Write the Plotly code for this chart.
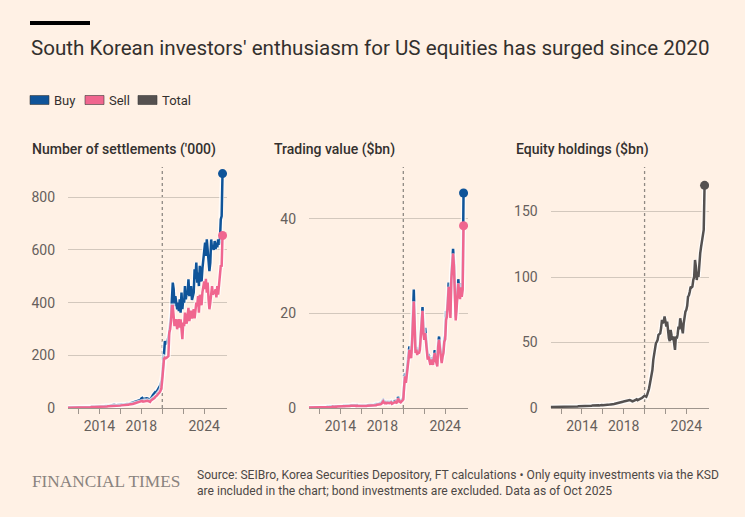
import plotly.graph_objects as go
import pandas as pd

# ---------------- data (monthly, Jan 2011 - Oct 2025) ----------------
dates = pd.date_range("2011-01-01", "2025-10-01", freq="MS")

settle_buy = [
    2, 2, 2, 3, 2, 2, 2, 3, 2, 2, 2, 3,
    3, 3, 3, 3, 3, 3, 4, 3, 3, 3, 4, 4,
    4, 4, 4, 5, 4, 5, 5, 5, 5, 5, 5, 6,
    6, 6, 6, 7, 7, 7, 7, 8, 8, 7, 8, 8,
    9, 10, 11, 11, 12, 12, 11, 10, 10, 11, 11, 11,
    11, 12, 12, 13, 13, 13, 14, 14, 15, 15, 16, 17,
    18, 19, 21, 22, 23, 24, 24, 25, 27, 28, 30, 31,
    36, 38, 33, 34, 36, 35, 37, 36, 35, 33, 31, 36,
    45, 48, 52, 56, 60, 58, 64, 70, 74, 80, 88, 100,
    121, 160, 197, 254, 242, 250, 254, 270, 286, 320, 349, 413,
    476, 451, 387, 425, 390, 375, 400, 368, 413, 362, 438, 375,
    413, 400, 463, 413, 438, 430, 489, 425, 440, 463, 410, 430,
    438, 527, 489, 552, 476, 514, 463, 540, 501, 480, 530, 565,
    590, 628, 577, 640, 600, 539, 520, 552, 640, 603, 615, 600,
    634, 603, 628, 610, 640, 620, 630, 716, 729, 890,
]
settle_sell = [
    1, 1, 1, 2, 1, 1, 1, 2, 1, 1, 1, 2,
    2, 2, 2, 2, 2, 3, 2, 2, 2, 3, 3, 3,
    3, 3, 3, 4, 3, 4, 4, 4, 4, 4, 4, 5,
    5, 5, 5, 6, 5, 6, 6, 6, 6, 6, 7, 7,
    7, 8, 8, 8, 9, 9, 9, 8, 8, 9, 9, 9,
    9, 10, 10, 10, 11, 11, 11, 12, 12, 12, 13, 13,
    14, 15, 15, 16, 17, 18, 18, 19, 20, 21, 22, 23,
    25, 27, 24, 25, 27, 26, 28, 27, 26, 25, 23, 28,
    30, 32, 35, 38, 42, 44, 48, 52, 55, 60, 66, 75,
    109, 172, 187, 191, 189, 191, 195, 197, 286, 299, 330, 387,
    387, 324, 311, 330, 337, 299, 320, 337, 305, 337, 300, 261,
    324, 311, 362, 340, 320, 350, 380, 330, 345, 370, 340, 360,
    375, 340, 362, 400, 387, 425, 362, 430, 413, 390, 440, 463,
    480, 451, 490, 438, 476, 413, 375, 400, 451, 463, 430, 440,
    438, 451, 420, 463, 430, 480, 520, 539, 540, 655,
]
trade_buy = [
    0.1, 0.1, 0.1, 0.2, 0.1, 0.1, 0.2, 0.2, 0.1, 0.1, 0.2, 0.2,
    0.2, 0.2, 0.2, 0.2, 0.2, 0.2, 0.2, 0.2, 0.2, 0.3, 0.2, 0.3,
    0.3, 0.3, 0.3, 0.3, 0.3, 0.3, 0.3, 0.3, 0.3, 0.4, 0.4, 0.4,
    0.4, 0.4, 0.4, 0.4, 0.5, 0.4, 0.5, 0.5, 0.4, 0.5, 0.5, 0.5,
    0.6, 0.6, 0.7, 0.7, 0.6, 0.6, 0.5, 0.6, 0.5, 0.5, 0.5, 0.5,
    0.4, 0.5, 0.5, 0.5, 0.5, 0.5, 0.5, 0.6, 0.6, 0.6, 0.6, 0.6,
    0.6, 0.7, 0.7, 0.7, 0.8, 0.8, 0.8, 0.9, 0.9, 1.0, 1.0, 1.1,
    1.5, 1.7, 1.3, 1.2, 1.3, 1.2, 1.3, 1.2, 1.2, 1.3, 1.4, 1.1,
    1.2, 1.3, 1.4, 1.5, 1.3, 1.4, 2.3, 1.6, 1.5, 1.4, 1.8, 1.9,
    2.2, 5.0, 7.3, 6.0, 8.4, 9.8, 11.6, 13.0, 11.8, 11.4, 14.4, 19.2,
    25.0, 18.2, 12.3, 12.9, 11.8, 12.3, 12.0, 12.9, 15.3, 18.3, 21.3, 16.8,
    15.2, 16.9, 14.6, 12.1, 10.7, 11.4, 10.5, 9.6, 10.7, 9.9, 9.6, 11.0,
    12.2, 10.7, 9.5, 9.3, 13.8, 15.1, 13.2, 10.7, 9.9, 11.3, 12.2, 14.7,
    15.3, 20.5, 20.3, 23.0, 26.5, 22.8, 19.8, 28.0, 30.2, 33.6, 31.0, 24.8,
    19.2, 21.8, 25.0, 27.2, 25.0, 23.8, 26.4, 24.3, 25.8, 45.4,
]
trade_sell = [
    0.1, 0.1, 0.1, 0.1, 0.1, 0.1, 0.2, 0.1, 0.1, 0.1, 0.1, 0.2,
    0.1, 0.1, 0.2, 0.2, 0.1, 0.1, 0.2, 0.2, 0.2, 0.2, 0.2, 0.2,
    0.2, 0.2, 0.2, 0.3, 0.2, 0.2, 0.3, 0.2, 0.3, 0.3, 0.3, 0.3,
    0.3, 0.3, 0.3, 0.3, 0.4, 0.3, 0.4, 0.4, 0.3, 0.4, 0.4, 0.4,
    0.5, 0.5, 0.6, 0.6, 0.5, 0.5, 0.4, 0.5, 0.4, 0.4, 0.4, 0.4,
    0.3, 0.4, 0.4, 0.4, 0.4, 0.4, 0.4, 0.5, 0.5, 0.5, 0.5, 0.5,
    0.5, 0.5, 0.6, 0.6, 0.6, 0.6, 0.7, 0.7, 0.7, 0.8, 0.8, 0.9,
    1.2, 1.4, 1.1, 1.0, 1.1, 1.0, 1.1, 1.0, 1.0, 1.1, 1.2, 0.9,
    1.0, 1.1, 1.2, 1.3, 1.1, 1.2, 2.0, 1.4, 1.3, 1.2, 1.5, 1.6,
    1.8, 4.6, 6.7, 5.3, 7.5, 8.8, 10.2, 12.3, 10.9, 10.5, 13.5, 17.9,
    22.5, 17.2, 11.6, 12.3, 11.2, 11.8, 11.5, 12.3, 14.5, 17.2, 20.5, 15.8,
    14.4, 15.8, 14.0, 11.6, 10.2, 10.9, 10.0, 9.1, 10.2, 9.5, 9.1, 10.5,
    11.6, 10.2, 9.0, 8.8, 13.0, 14.4, 12.5, 10.2, 9.5, 10.8, 11.6, 14.0,
    14.5, 18.6, 19.3, 22.1, 25.6, 22.0, 19.0, 27.0, 29.1, 32.6, 30.0, 24.0,
    18.5, 21.0, 24.2, 26.3, 24.2, 23.0, 25.5, 23.5, 25.0, 38.5,
]
holdings_total = [
    0.8, 0.8, 0.9, 0.9, 0.9, 0.8, 0.8, 0.7, 0.7, 0.8, 0.8, 0.8,
    0.8, 0.9, 0.9, 0.9, 0.9, 0.9, 1.0, 1.0, 1.0, 1.0, 1.0, 1.0,
    1.0, 1.1, 1.1, 1.1, 1.2, 1.1, 1.2, 1.2, 1.3, 1.3, 1.4, 1.4,
    1.4, 1.5, 1.5, 1.5, 1.6, 1.6, 1.7, 1.7, 1.6, 1.7, 1.8, 1.8,
    1.9, 2.0, 2.1, 2.2, 2.3, 2.2, 2.3, 2.1, 2.0, 2.2, 2.2, 2.2,
    2.1, 2.1, 2.2, 2.3, 2.3, 2.4, 2.5, 2.6, 2.6, 2.7, 2.7, 2.8,
    3.0, 3.1, 3.3, 3.4, 3.6, 3.8, 3.9, 4.0, 4.1, 4.3, 4.5, 4.7,
    5.0, 5.2, 5.0, 5.3, 5.6, 5.7, 5.9, 6.0, 5.8, 5.2, 5.1, 5.3,
    5.6, 5.9, 6.1, 6.6, 6.0, 6.5, 7.0, 7.2, 7.3, 7.6, 8.0, 8.8,
    9.4, 9.0, 8.6, 10.2, 12.0, 14.5, 18.0, 21.6, 26.6, 29.0, 36.8, 41.5,
    45.7, 49.5, 50.5, 52.0, 55.8, 56.5, 57.0, 61.0, 67.3, 64.7, 66.0, 69.8,
    63.5, 62.2, 66.0, 57.0, 53.3, 51.0, 59.6, 55.5, 52.0, 54.6, 48.0, 44.4,
    54.6, 53.0, 55.8, 62.2, 60.0, 68.5, 64.7, 61.0, 57.0, 64.7, 69.8, 73.6,
    74.9, 78.0, 85.0, 86.0, 88.8, 92.6, 92.0, 92.6, 97.7, 100.0, 113.0, 108.0,
    97.7, 104.0, 100.0, 113.0, 118.0, 123.0, 128.0, 132.0, 136.0, 170.0,
]

year_ticks = ["2012-01-01", "2014-01-01", "2016-01-01", "2018-01-01",
              "2020-01-01", "2022-01-01", "2024-01-01"]
year_labels = ["", "2014", "", "2018", "", "", "2024"]
panel_titles = ["Number of settlements ('000)", "Trading value ($bn)", "Equity holdings ($bn)"]
y_ticks = [[0, 200, 400, 600, 800], [0, 20, 40], [0, 50, 100, 150]]
y_tops = [915, 50.9, 184]
legend_names = ["Buy", "Sell", "Total"]

# ---------------- styling ----------------
BG = "#fff1e5"
BUY = "#0f5499"
SELL = "#f0668f"
TOTAL = "#555150"
TEXT = "#33302e"
MUTED = "#66605c"
GRID = "#d3c8bd"
AXIS = "#9e958d"
FONT = "Roboto, 'Noto Sans', sans-serif"

W_FIG, H_FIG = 745, 517
L, R, T, B = 68, 36, 167, 109
PW = W_FIG - L - R
PH = H_FIG - T - B


def px(x):
    return (x - L) / PW


def py(y):
    return 1 - (y - T) / PH


domains = [[0.0, 0.248], [0.376, 0.624], [0.753, 1.0]]
x_range = ["2011-01-01", "2026-03-05"]

fig = go.Figure()


def add_series(idx, values, color):
    xa = "x" if idx == 1 else f"x{idx}"
    ya = "y" if idx == 1 else f"y{idx}"
    fig.add_trace(go.Scatter(x=dates, y=values, mode="lines", xaxis=xa, yaxis=ya,
                             line=dict(color="rgba(255,255,255,0.75)", width=5),
                             showlegend=False, hoverinfo="skip"))
    fig.add_trace(go.Scatter(x=dates, y=values, mode="lines", xaxis=xa, yaxis=ya,
                             line=dict(color=color, width=2.5),
                             showlegend=False))
    fig.add_trace(go.Scatter(x=[dates[-1]], y=[values[-1]], mode="markers", xaxis=xa, yaxis=ya,
                             marker=dict(color=color, size=9),
                             showlegend=False, hoverinfo="skip"))


add_series(1, settle_buy, BUY)
add_series(1, settle_sell, SELL)
add_series(2, trade_buy, BUY)
add_series(2, trade_sell, SELL)
add_series(3, holdings_total, TOTAL)

layout = dict(
    width=W_FIG, height=H_FIG, autosize=False,
    paper_bgcolor=BG, plot_bgcolor=BG,
    margin=dict(l=L, r=R, t=T, b=B, pad=0),
    showlegend=False,
    font=dict(family=FONT, color=TEXT),
)
for i in range(3):
    sfx = "" if i == 0 else str(i + 1)
    layout["xaxis" + sfx] = dict(
        domain=domains[i], range=x_range, type="date",
        anchor="y" + sfx,
        tickvals=year_ticks, ticktext=year_labels,
        ticks="outside", ticklen=5, tickwidth=1, tickcolor=AXIS,
        showline=True, linecolor=AXIS, linewidth=1,
        showgrid=False, zeroline=False,
        tickfont=dict(size=14, color=MUTED, family=FONT),
        fixedrange=True,
    )
    layout["yaxis" + sfx] = dict(
        domain=[0, 1], range=[0, y_tops[i]], anchor="x" + sfx,
        tickvals=y_ticks[i], showgrid=True, gridcolor=GRID, gridwidth=1,
        zeroline=False, showline=False, ticks="",
        ticklabelstandoff=12,
        tickfont=dict(size=14, color=MUTED, family=FONT),
        fixedrange=True,
    )
fig.update_layout(**layout)

# dashed 2020 reference lines
for i in range(3):
    sfx = "" if i == 0 else str(i + 1)
    fig.add_shape(type="line", xref="x" + sfx, yref="y" + sfx + " domain",
                  x0="2020-01-01", x1="2020-01-01", y0=0, y1=1,
                  line=dict(color="#8f8983", width=1.3, dash="3px,3px"), layer="below")

# top black bar
fig.add_shape(type="rect", xref="paper", yref="paper",
              x0=px(30), x1=px(90), y0=py(25), y1=py(21),
              fillcolor="#000000", line=dict(width=0))

annotations = []
annotations.append(dict(text="South Korean investors' enthusiasm for US equities has surged since 2020",
                        x=px(29), y=py(48), xref="paper", yref="paper", xanchor="left",
                        yanchor="middle", showarrow=False,
                        font=dict(size=20.6, color=TEXT, family=FONT)))

# legend
legend_colors = [BUY, SELL, TOTAL]
legend_x = [30, 85, 138]
for name, col, lx in zip(legend_names, legend_colors, legend_x):
    fig.add_shape(type="rect", xref="paper", yref="paper",
                  x0=px(lx), x1=px(lx + 19), y0=py(104.5), y1=py(95.5),
                  fillcolor=col, line=dict(width=0.6, color="#3a3a3a"))
    annotations.append(dict(text=name, x=px(lx + 22), y=py(100), xref="paper", yref="paper",
                            xanchor="left", yanchor="middle", showarrow=False,
                            font=dict(size=13, color=TEXT, family=FONT)))

# panel titles
for t, tx in zip(panel_titles, [30, 272, 514]):
    annotations.append(dict(text=t, x=px(tx), y=py(149), xref="paper", yref="paper",
                            xanchor="left", yanchor="middle", showarrow=False,
                            font=dict(size=14, color=TEXT, family=FONT, weight=500)))

# footer
annotations.append(dict(text="FINANCIAL TIMES", x=px(30), y=py(481), xref="paper", yref="paper",
                        xanchor="left", yanchor="middle", showarrow=False,
                        font=dict(size=17.3, color="#8a837e", family="'Liberation Serif', serif")))
annotations.append(dict(text="Source: SEIBro, Korea Securities Depository, FT calculations \u2022 Only equity investments via the KSD<br>"
                             "are included in the chart; bond investments are excluded. Data as of Oct 2025",
                        x=px(195), y=py(482.5), xref="paper", yref="paper",
                        xanchor="left", yanchor="middle", align="left", showarrow=False,
                        font=dict(size=12.1, color="#4d4845", family=FONT)))
fig.update_layout(annotations=annotations)

fig.write_html("out.html", config={"displayModeBar": False},
               post_script="document.body.style.margin='0';document.body.style.background='#fff1e5';")
